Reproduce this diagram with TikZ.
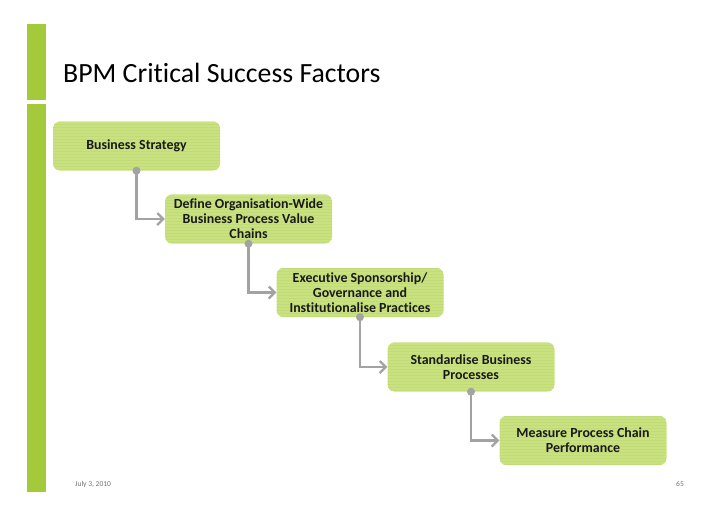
\documentclass[tikz,border=0pt]{standalone}
\usepackage{fontspec}
\setmainfont{Carlito}[Ligatures=NoCommon]
\usetikzlibrary{arrows.meta,positioning}
\definecolor{barg}{HTML}{A2CA3A}
\definecolor{boxg}{HTML}{C9E27F}
\definecolor{strp}{HTML}{C1DB78}
\definecolor{conn}{HTML}{A3A3A3}
\tikzset{
  stepbox/.style={rounded corners=7pt, fill=boxg, minimum width=167pt, minimum height=49pt,
    inner sep=0pt, align=center, font=\bfseries\fontsize{13.9}{15}\selectfont, text=black!90,
    path picture={\foreach \k in {0,3,...,60}{\draw[strp,line width=0.3pt] ([yshift=-\k pt]path picture bounding box.north west) -- ([yshift=-\k pt]path picture bounding box.north east);}}},
  link/.style={draw=conn, line width=2.6pt, -{Straight Barb[length=6pt,width=12pt,line width=2.2pt]}},
  dot/.style={circle, fill=conn, minimum size=8pt, inner sep=0pt}
}
\begin{document}
\begin{tikzpicture}[x=1pt,y=-1pt]
\useasboundingbox (0,0) rectangle (728,515);
\fill[white] (0,0) rectangle (728,515);
\fill[barg] (27,24) rectangle (46,100);
\fill[barg] (27,104) rectangle (46,492);
\node[anchor=base west, font=\fontsize{27.8}{32}\selectfont, inner sep=0pt] (title) at (63,82) {BPM Critical Success Factors};
\node[stepbox] (b1) at (136.5,146) {Business Strategy};
\node[stepbox] (b2) at (248.5,219) {Define Organisation-Wide\\Business Process Value\\Chains};
\node[stepbox] (b3) at (360,292.5) {Executive Sponsorship/\\Governance and\\Institutionalise Practices};
\node[stepbox] (b4) at (471,367) {Standardise Business\\Processes};
\node[stepbox] (b5) at (583,440.5) {Measure Process Chain\\Performance};
\foreach \a/\b in {b1/b2,b2/b3,b3/b4,b4/b5}{
  \node[dot] (d\a) at (\a.south) {};
  \draw[link] (\a.south) |- (\b.west);
}
\node[anchor=base west, font=\fontsize{7.5}{8}\selectfont, text=black!55, inner sep=0pt] (date) at (75,486) {July 3, 2010};
\node[anchor=base east, font=\fontsize{7.5}{8}\selectfont, text=black!55, inner sep=0pt] (page) at (684,486) {65};
\end{tikzpicture}
\end{document}
